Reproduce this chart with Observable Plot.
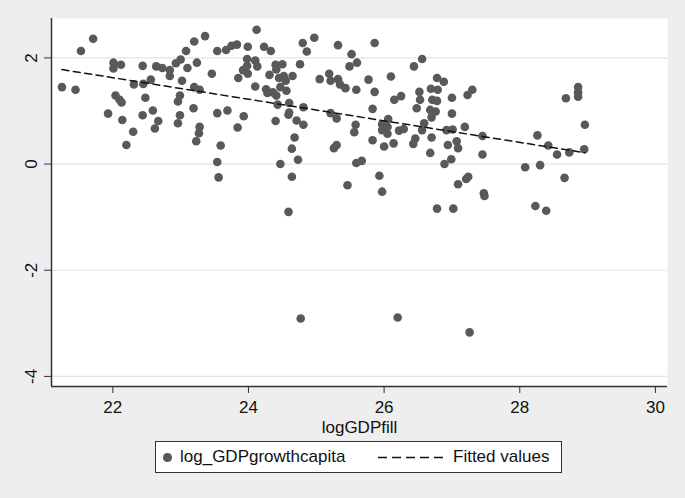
<!DOCTYPE html>
<html><head><meta charset="utf-8">
<script src="https://cdn.jsdelivr.net/npm/d3@7"></script>
<script src="https://cdn.jsdelivr.net/npm/@observablehq/plot@0.6"></script>
<style>
html,body{margin:0;padding:0;background:#eeeeee;}
#wrap{position:relative;width:685px;height:498px;background:#eeeeee;font-family:"Liberation Sans",Arial,sans-serif;color:#111;overflow:hidden;}
#chart{position:absolute;left:0;top:0;}
#legend{position:absolute;left:155px;top:441px;width:405px;height:30px;border:1px solid #333;background:#fff;font-size:17px;}
#legend .dot{position:absolute;left:7px;top:11px;width:8.5px;height:8.5px;border-radius:50%;background:#595959;}
#legend .t{position:absolute;top:0;line-height:30px;white-space:nowrap;}
#legend svg{position:absolute;left:221px;top:0;}
</style></head><body>
<div id="wrap"><div id="chart"></div>
<div id="legend"><div class="dot"></div><span class="t" id="l1" style="left:24px"></span><svg width="68" height="30"><line x1="1" x2="66" y1="15.5" y2="15.5" stroke="#111" stroke-width="1.5" stroke-dasharray="9,5"/></svg><span class="t" id="l2" style="left:297px"></span></div>
</div>
<script>
const seriesNames = ["log_GDPgrowthcapita", "Fitted values"];
const xTitle = "logGDPfill";
const xTicks = [22, 24, 26, 28, 30];
const yTicks = [2, 0, -2, -4];
const logGDPfill = [
21.25,21.45,21.53,21.71,22.01,22.01,22.12,22.04,22.10,22.13,21.93,22.14,22.30,22.20,22.31,22.44,22.45,22.48,22.56,22.44,
22.59,22.67,22.62,22.64,22.73,22.84,22.84,22.93,23.00,23.08,23.20,23.36,23.10,23.02,23.24,22.99,22.96,22.99,22.96,23.19,
23.20,23.28,23.28,23.27,23.23,23.46,23.54,23.67,23.75,23.83,23.99,24.12,23.54,23.69,23.59,23.54,23.56,23.85,23.84,23.93,
23.92,23.98,23.98,23.99,24.10,24.13,24.10,24.23,24.33,24.31,24.26,24.28,24.36,24.40,24.50,24.41,24.45,24.52,24.55,24.65,
24.47,24.41,24.56,24.43,24.60,24.60,24.59,24.40,24.71,24.81,24.81,24.68,24.64,24.73,24.47,24.64,24.76,24.80,24.86,24.97,
25.05,25.19,25.21,25.32,25.35,25.43,25.32,25.52,25.49,25.60,25.59,25.21,25.30,25.26,25.30,25.58,25.56,25.59,25.46,25.67,
25.86,25.77,25.86,25.83,25.83,26.00,26.06,25.97,26.05,25.97,26.05,26.10,26.15,26.25,26.14,26.22,26.29,25.93,25.97,26.44,
26.56,26.52,26.53,26.48,26.69,26.78,26.88,26.79,26.71,26.78,26.68,26.76,26.70,26.59,26.56,26.70,26.46,26.43,26.68,27.00,
27.00,26.92,27.01,26.94,27.07,27.09,27.19,27.23,27.30,26.99,26.89,27.24,27.21,27.09,27.45,27.45,27.47,28.26,28.42,28.55,
28.73,28.95,28.96,28.68,28.86,28.86,28.86,28.08,28.30,28.66,
24.59,24.77,26.20,26.78,27.02,27.26,28.23,28.39,27.48
];
const log_GDPgrowthcapita = [
1.45,1.40,2.13,2.36,1.91,1.80,1.87,1.29,1.21,1.16,0.95,0.83,0.61,0.36,1.50,1.85,1.51,1.25,1.59,0.92,
1.01,0.81,0.67,1.84,1.81,1.77,1.66,1.90,1.97,2.13,2.31,2.41,1.81,1.57,1.91,1.29,1.18,0.92,0.77,1.05,
1.45,1.40,0.70,0.58,0.43,1.70,2.13,2.15,2.23,2.25,2.21,2.53,0.96,1.01,0.35,0.04,-0.25,1.62,0.69,0.90,
1.77,1.98,1.85,1.70,1.95,1.84,1.46,2.21,2.13,1.68,1.41,1.34,1.35,1.87,1.88,1.78,1.62,1.66,1.57,1.66,
1.45,1.29,1.38,1.12,1.15,0.97,0.93,0.81,0.82,0.74,1.07,0.50,0.29,0.08,0.00,-0.24,1.88,2.28,2.12,2.38,
1.60,1.70,1.57,1.60,1.50,1.43,2.24,2.07,1.84,1.91,1.40,0.96,0.86,0.30,0.36,0.74,0.60,0.02,-0.40,0.06,
2.28,1.59,1.36,1.04,0.45,0.33,0.85,0.75,0.70,0.64,0.57,1.65,1.21,1.28,0.39,0.63,0.66,-0.22,-0.52,1.84,
1.98,1.36,1.21,1.05,1.42,1.62,1.55,1.40,1.21,1.19,1.02,0.99,0.88,0.77,0.64,0.50,0.48,0.38,0.21,1.25,
0.95,0.64,0.65,0.36,0.43,0.30,0.70,1.30,1.40,0.09,0.00,-0.24,-0.28,-0.38,0.53,0.18,-0.55,0.54,0.35,0.18,
0.22,0.28,0.74,1.24,1.45,1.35,1.27,-0.06,-0.02,-0.26,
-0.90,-2.91,-2.89,-0.84,-0.84,-3.17,-0.79,-0.88,-0.60
];
const xDomain = [21.096, 30.178];
const yDomain = [-4.19, 2.742];

const data = logGDPfill.map((x, i) => ({x, y: log_GDPgrowthcapita[i]}));

const chart = Plot.plot({
  width: 685,
  height: 436,
  marginLeft: 51,
  marginRight: 18,
  marginTop: 18,
  marginBottom: 50,
  style: {background: "transparent", fontFamily: "'Liberation Sans', Arial, sans-serif", fontSize: "17px", color: "#111"},
  x: {domain: xDomain},
  y: {domain: yDomain},
  marks: [
    Plot.frame({fill: "white", stroke: null}),
    Plot.gridY(yTicks, {stroke: "#e4e4e4", strokeOpacity: 1, strokeWidth: 1.2}),
    Plot.dot(data, {x: "x", y: "y", r: 4.3, fill: "#595959", stroke: null}),
    Plot.linearRegressionY(data, {x: "x", y: "y", ci: 0, stroke: "#111", strokeWidth: 1.5, strokeDasharray: "7,4.5"}),
    Plot.ruleX([xDomain[0]], {stroke: "#333", strokeWidth: 1.5}),
    Plot.ruleY([yDomain[0]], {stroke: "#333", strokeWidth: 1.5}),
    Plot.axisX({ticks: xTicks, tickSize: 7, tickPadding: 7, fontSize: 17, label: null, stroke: "#333"}),
    Plot.axisY({ticks: yTicks, tickSize: 7, tickFormat: () => "", label: null, stroke: "#333"}),
    Plot.text(yTicks, {x: xDomain[0], y: d => d, text: d => String(d), rotate: -90, dx: -20, fontSize: 17, textAnchor: "middle", lineAnchor: "middle", fill: "#111"}),
    Plot.text([xTitle], {frameAnchor: "bottom", dy: 41, fontSize: 17, lineAnchor: "middle", fill: "#111"})
  ]
});
document.getElementById("chart").appendChild(chart);
document.getElementById("l1").textContent = seriesNames[0];
document.getElementById("l2").textContent = seriesNames[1];
</script>
</body></html>
